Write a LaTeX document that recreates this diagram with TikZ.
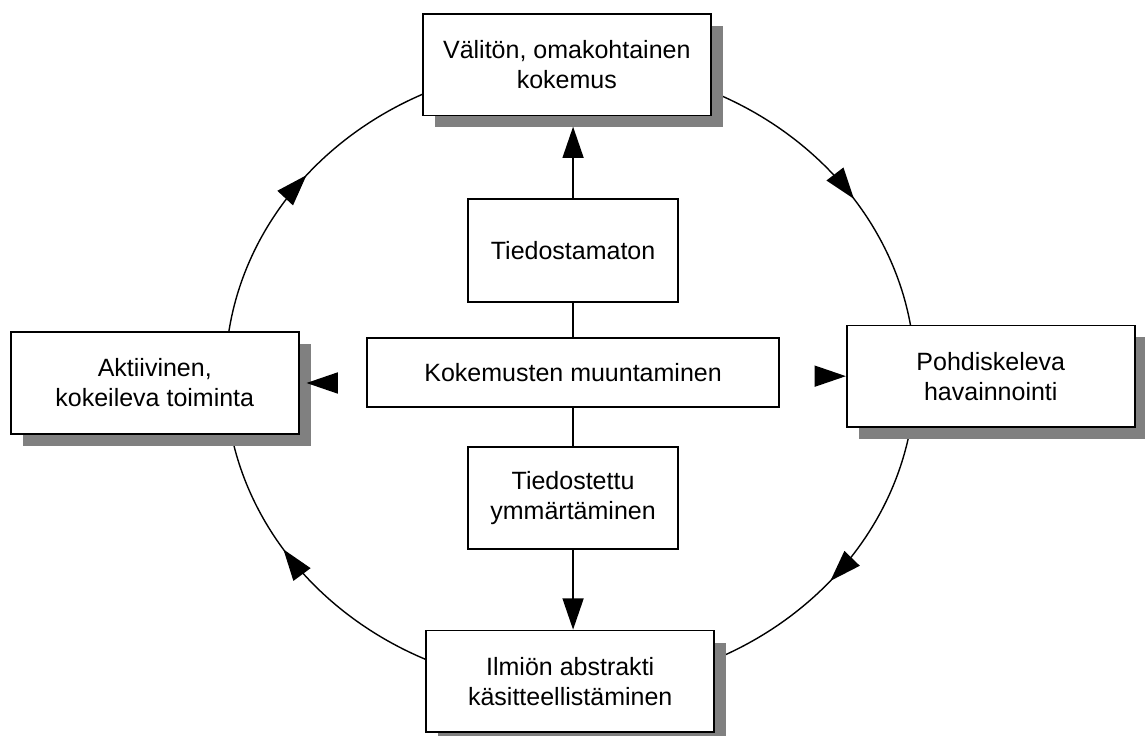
\documentclass[tikz,border=0pt]{standalone}
\usepackage{fontspec}
\setmainfont{Liberation Sans}
\usetikzlibrary{arrows.meta, shadows, backgrounds, decorations.markings, calc}

\tikzset{
	stage/.style={draw, rectangle, line width=.9pt, align=center, fill=white, minimum width=5.06cm, minimum height=1.78cm, drop shadow={shadow xshift=.21cm, shadow yshift=-.21cm, fill=black!50, opacity=1}},
	core/.style={draw, rectangle, line width=.9pt, align=center, fill=white, minimum width=3.69cm, minimum height=1.8cm},
	arrowline/.style={line width=.7pt, -{Triangle[length=5.5mm, width=3.7mm]}},
	loopline/.style={line width=.7pt},
	midtip/.style={postaction={decorate}, decoration={markings, mark=at position #1 with {\arrow{Triangle[length=5.5mm, width=3.7mm]}}}}
}

\begin{document}
\begin{tikzpicture}[font=\fontsize{12.5pt}{15pt}\selectfont]
	\useasboundingbox (0,0) rectangle (20.12,12.92);
	
	\node[draw, rectangle, line width=.9pt, fill=white, minimum width=7.24cm, minimum height=1.21cm] (trans) at (10.07,6.37) {Kokemusten muuntaminen};
	
	\node[core, above of=trans, yshift=1.15cm] (unc) {Tiedostamaton};
	
	\node[core, below of=trans, yshift=-1.2cm] (con) {Tiedostettu\\ymmärtäminen};
	
	\node[stage, above of=unc, yshift=2.26cm, xshift=-.11cm] (exp) {Välitön, omakohtainen\\kokemus};
	
	\node[stage, below of=con, yshift=-2.22cm, xshift=-.05cm] (abs) {Ilmiön abstrakti\\käsitteellistäminen};
	
	\node[stage, left of=trans, xshift=-6.35cm, yshift=-.18cm] (act) {Aktiivinen,\\kokeileva toiminta};
	
	\node[stage, right of=trans, xshift=6.34cm, yshift=-.06cm] (refl) {Pohdiskeleva\\havainnointi};
	
	\draw[loopline] (trans) -- (unc);
	
	\draw[loopline] (trans) -- (con);
	
	\draw[arrowline, shorten >=.18cm] (unc) -- (unc |- exp.south);
	
	\draw[arrowline] (con) -- (con |- abs.north);
	
	\draw[arrowline, shorten <=.53cm, shorten >=.12cm] (trans.west |- act.east) -- (act.east);
	
	\draw[arrowline, shorten <=.62cm] (trans.east |- refl.west) -- (refl.west);
	
	% the learning cycle behind the boxes
	\begin{scope}[on background layer]
		\coordinate (o) at (10.02,6.31);
		\draw[loopline, midtip=.63] ($(o)+(90:6.06cm and 5.48cm)$) arc[start angle=90, end angle=0, x radius=6.06cm, y radius=5.48cm];
		\draw[loopline, midtip=.44] ($(o)+(0:6.06cm and 5.48cm)$) arc[start angle=0, end angle=-90, x radius=6.06cm, y radius=5.48cm];
		\draw[loopline, midtip=.64] ($(o)+(270:6.06cm and 5.48cm)$) arc[start angle=270, end angle=180, x radius=6.06cm, y radius=5.48cm];
		\draw[loopline, midtip=.43] ($(o)+(180:6.06cm and 5.48cm)$) arc[start angle=180, end angle=90, x radius=6.06cm, y radius=5.48cm];
	\end{scope}
\end{tikzpicture}
\end{document}
